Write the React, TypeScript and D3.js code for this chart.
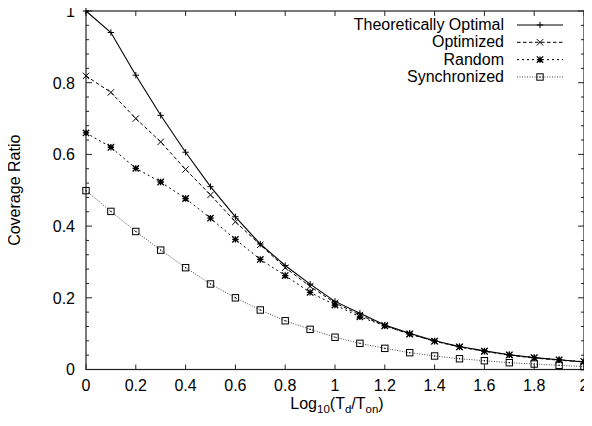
import React from "react";
import * as d3 from "d3";

const xs = [0, 0.1, 0.2, 0.3, 0.4, 0.5, 0.6, 0.7, 0.8, 0.9, 1.0, 1.1, 1.2, 1.3, 1.4, 1.5, 1.6, 1.7, 1.8, 1.9, 2.0];
const theoretical = [1.0, 0.94, 0.821, 0.709, 0.606, 0.51, 0.426, 0.35, 0.29, 0.238, 0.19, 0.157, 0.124, 0.101, 0.08, 0.064, 0.052, 0.041, 0.033, 0.027, 0.021];
const optimized = [0.819, 0.773, 0.7, 0.635, 0.558, 0.487, 0.412, 0.348, 0.284, 0.232, 0.186, 0.152, 0.122, 0.099, 0.079, 0.063, 0.051, 0.04, 0.032, 0.026, 0.021];
const random = [0.66, 0.62, 0.561, 0.523, 0.477, 0.422, 0.363, 0.307, 0.262, 0.215, 0.18, 0.147, 0.122, 0.099, 0.079, 0.063, 0.051, 0.041, 0.033, 0.027, 0.022];
const synchronized = [0.499, 0.441, 0.385, 0.333, 0.284, 0.2385, 0.2, 0.166, 0.136, 0.112, 0.09, 0.073, 0.059, 0.047, 0.0377, 0.03, 0.0245, 0.019, 0.0153, 0.0117, 0.008];
const seriesNames = ["Theoretically Optimal", "Optimized", "Random", "Synchronized"];
const xTicks = [0, 0.2, 0.4, 0.6, 0.8, 1, 1.2, 1.4, 1.6, 1.8, 2];
const yTicks = [0, 0.2, 0.4, 0.6, 0.8, 1];

const W = 592, H = 426;
const L = 86, R = 584, T = 11, B = 369.5;
const FONT = "'Liberation Sans', Arial, Helvetica, sans-serif";
const FS = 16;

type Style = { dash: string; color: string; width: number; marker: string };
const styles: Style[] = [
  { dash: "", color: "#000", width: 1.1, marker: "plus" },
  { dash: "3.5,2.5", color: "#000", width: 1, marker: "cross" },
  { dash: "2,3", color: "#000", width: 1, marker: "star" },
  { dash: "1,1.5", color: "#444", width: 1, marker: "square" },
];

function Marker({ kind, cx, cy }: { kind: string; cx: number; cy: number }) {
  const s = 3.2;
  const st = { stroke: "#000", strokeWidth: 1, fill: "none" } as const;
  if (kind === "plus")
    return <path d={`M${cx - s},${cy}H${cx + s}M${cx},${cy - s}V${cy + s}`} {...st} />;
  if (kind === "cross")
    return <path d={`M${cx - s},${cy - s}L${cx + s},${cy + s}M${cx - s},${cy + s}L${cx + s},${cy - s}`} {...st} />;
  if (kind === "star")
    return (
      <path
        d={`M${cx - s},${cy - s}L${cx + s},${cy + s}M${cx - s},${cy + s}L${cx + s},${cy - s}M${cx - s},${cy}H${cx + s}M${cx},${cy - s}V${cy + s}`}
        {...st}
        strokeWidth={1.3}
      />
    );
  return (
    <g>
      <rect x={cx - s} y={cy - s} width={2 * s} height={2 * s} {...st} />
      <rect x={cx - 0.6} y={cy - 0.6} width={1.2} height={1.2} fill="#000" />
    </g>
  );
}

export default function App() {
  const x = d3.scaleLinear().domain([0, 2]).range([L, R]);
  const y = d3.scaleLinear().domain([0, 1]).range([B, T]);
  const data = [theoretical, optimized, random, synchronized];
  const line = d3
    .line<number>()
    .x((_, i) => x(xs[i]))
    .y((d) => y(d));
  const minorY = d3.range(0, 1.0001, 0.04).filter((v) => Math.abs(v / 0.2 - Math.round(v / 0.2)) > 1e-6);
  const legendY = [25, 42.3, 59.6, 77];
  return (
    <div style={{ margin: -8 }}>
      <svg width={W} height={H} style={{ display: "block", background: "#fff" }} fontFamily={FONT}>
        <rect x={L} y={T} width={R - L} height={B - T} fill="none" stroke="#222" strokeWidth={1.2} />
        {xTicks.map((t) => (
          <g key={"x" + t}>
            <line x1={x(t)} x2={x(t)} y1={B} y2={B - 5} stroke="#222" />
            <line x1={x(t)} x2={x(t)} y1={T} y2={T + 5} stroke="#222" />
            <text x={x(t)} y={390.5} fontSize={FS} textAnchor="middle" fill="#000">
              {String(t)}
            </text>
          </g>
        ))}
        {yTicks.map((t) => (
          <g key={"y" + t}>
            <line x1={L} x2={L + 6} y1={y(t)} y2={y(t)} stroke="#222" />
            <line x1={R} x2={R - 6} y1={y(t)} y2={y(t)} stroke="#222" />
            <text x={L - 11} y={y(t) + 5.8} fontSize={FS} textAnchor="end" fill="#000">
              {String(t)}
            </text>
          </g>
        ))}
        {minorY.map((t) => (
          <g key={"m" + t}>
            <line x1={L} x2={L + 3} y1={y(t)} y2={y(t)} stroke="#222" />
            <line x1={R} x2={R - 3} y1={y(t)} y2={y(t)} stroke="#222" />
          </g>
        ))}
        {data.map((d, i) => (
          <g key={"s" + i}>
            <path
              d={line(d) || ""}
              fill="none"
              stroke={styles[i].color}
              strokeWidth={styles[i].width}
              strokeDasharray={styles[i].dash || undefined}
            />
            {d.map((v, j) => (
              <Marker key={j} kind={styles[i].marker} cx={x(xs[j])} cy={y(v)} />
            ))}
          </g>
        ))}
        {seriesNames.map((n, i) => (
          <g key={"l" + i}>
            <text x={504} y={legendY[i] + 5} fontSize={FS} textAnchor="end" fill="#000">
              {n}
            </text>
            <line
              x1={517}
              x2={563}
              y1={legendY[i]}
              y2={legendY[i]}
              stroke={styles[i].color}
              strokeWidth={styles[i].width}
              strokeDasharray={styles[i].dash || undefined}
            />
            <Marker kind={styles[i].marker} cx={540} cy={legendY[i]} />
          </g>
        ))}
        <text transform={`translate(20,${(T + B) / 2}) rotate(-90)`} fontSize={FS} textAnchor="middle" fill="#000">
          Coverage Ratio
        </text>
        <text x={337} y={409} fontSize={FS} textAnchor="middle" fill="#000">
          Log
          <tspan fontSize={11.5} dy={4}>10</tspan>
          <tspan dy={-4}>(T</tspan>
          <tspan fontSize={11.5} dy={4}>d</tspan>
          <tspan dy={-4}>/T</tspan>
          <tspan fontSize={11.5} dy={4}>on</tspan>
          <tspan dy={-4}>)</tspan>
        </text>
      </svg>
    </div>
  );
}
